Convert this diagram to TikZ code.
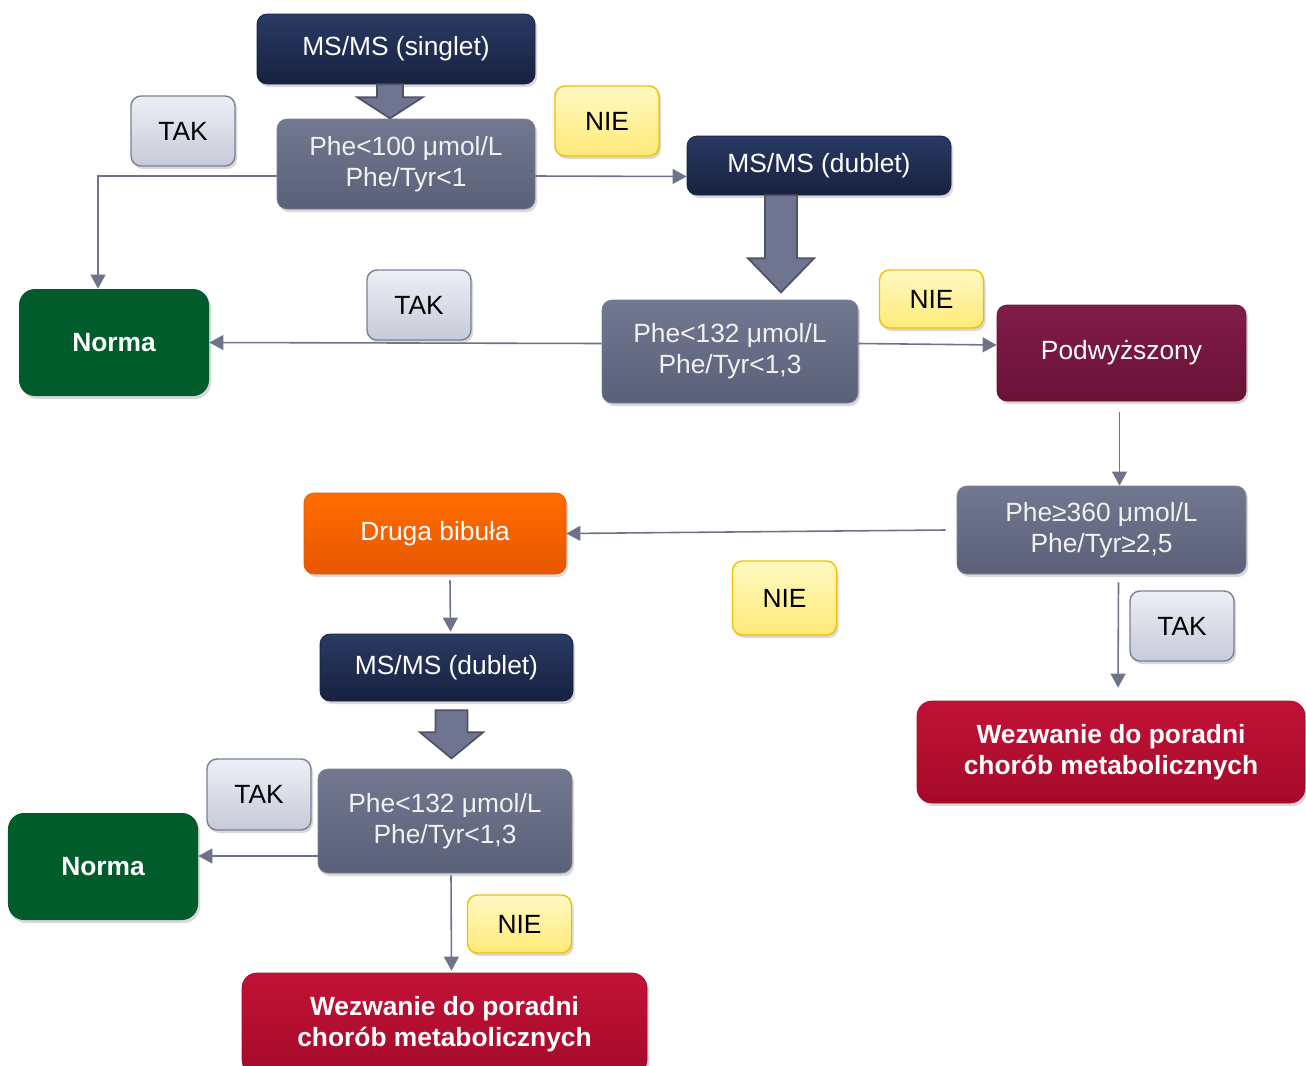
\documentclass[tikz,border=0pt]{standalone}
\usepackage{fontspec}
\setmainfont{Liberation Sans}
\usetikzlibrary{arrows.meta,shadows}

\definecolor{navytop}{HTML}{2A3A63}
\definecolor{navybot}{HTML}{172140}
\definecolor{slatetop}{HTML}{71788F}
\definecolor{slatebot}{HTML}{5A6078}
\definecolor{normagreen}{HTML}{005C2B}
\definecolor{maroontop}{HTML}{801C48}
\definecolor{maroonbot}{HTML}{6A1236}
\definecolor{orangetop}{HTML}{FF6D00}
\definecolor{orangebot}{HTML}{E85600}
\definecolor{redtop}{HTML}{C21236}
\definecolor{redbot}{HTML}{A50A2A}
\definecolor{taktop}{HTML}{EDEFF5}
\definecolor{takbot}{HTML}{C7CAD8}
\definecolor{takline}{HTML}{7A7F95}
\definecolor{nietop}{HTML}{FFF9C2}
\definecolor{niebot}{HTML}{FFEA78}
\definecolor{nieline}{HTML}{F0C000}
\definecolor{connline}{HTML}{6E7389}
\definecolor{fatfill}{HTML}{6F7590}
\definecolor{fatline}{HTML}{4E5366}

\tikzset{
  box/.style={rounded corners=0.2cm, align=center, inner sep=2pt,
    font=\fontsize{15}{17.5}\selectfont,
    drop shadow={opacity=0.3, shadow xshift=0.04cm, shadow yshift=-0.06cm}},
  msbox/.style={box, text=white, top color=navytop, bottom color=navybot, draw=navybot},
  testbox/.style={box, text=white!95!black, top color=slatetop, bottom color=slatebot, draw=slatebot!80},
  normabox/.style={box, rounded corners=0.32cm, text=white, fill=normagreen,
    font=\fontsize{15}{17.5}\selectfont\bfseries, minimum width=3.8cm, minimum height=2.14cm,
    drop shadow={opacity=0}},
  podwbox/.style={box, text=white, top color=maroontop, bottom color=maroonbot, draw=maroonbot},
  drugabox/.style={box, text=white, top color=orangetop, bottom color=orangebot, draw=orangebot},
  callbox/.style={box, rounded corners=0.3cm, text=white, top color=redtop, bottom color=redbot,
    draw=redbot, font=\fontsize{15}{17.5}\selectfont\bfseries},
  takbox/.style={box, top color=taktop, bottom color=takbot, draw=takline, line width=0.8pt,
    minimum width=2.08cm},
  niebox/.style={box, top color=nietop, bottom color=niebot, draw=nieline, line width=0.8pt,
    minimum width=2.08cm},
  conn/.style={draw=connline, line width=0.9pt, -{Triangle[length=8pt,width=8.5pt]}},
  fat/.style={fill=fatfill, draw=fatline, line width=1pt, line join=miter}
}

\begin{document}
\begin{tikzpicture}
    \useasboundingbox (0,0) rectangle (26.12,-21.3);

    % main boxes
    \node[msbox, minimum width=5.56cm, minimum height=1.40cm] (singlet) at (7.92,-0.98) {MS/MS (singlet)};
    \node[testbox, minimum width=5.16cm, minimum height=1.80cm] (cond1) at (8.12,-3.28) {Phe<100 μmol/L\\Phe/Tyr<1};
    \node[msbox, minimum width=5.28cm, minimum height=1.18cm] (dublet1) at (16.38,-3.31) {MS/MS (dublet)};
    \node[normabox] (norma1) at (2.28,-6.85) {Norma};
    \node[testbox, minimum width=5.12cm, minimum height=2.06cm] (cond2) at (14.60,-7.03) {Phe<132 μmol/L\\Phe/Tyr<1,3};
    \node[podwbox, minimum width=4.98cm, minimum height=1.92cm] (podw) at (22.43,-7.06) {Podwyższony};
    \node[testbox, minimum width=5.78cm, minimum height=1.76cm] (cond3) at (22.03,-10.60) {Phe≥360 μmol/L\\Phe/Tyr≥2,5};
    \node[drugabox, minimum width=5.24cm, minimum height=1.62cm] (druga) at (8.70,-10.67) {Druga bibuła};
    \node[callbox, minimum width=7.76cm, minimum height=2.04cm] (wez1) at (22.22,-15.04) {Wezwanie do poradni\\chorób metabolicznych};
    \node[msbox, minimum width=5.06cm, minimum height=1.34cm] (dublet2) at (8.93,-13.35) {MS/MS (dublet)};
    \node[testbox, minimum width=5.08cm, minimum height=2.08cm] (cond4) at (8.90,-16.42) {Phe<132 μmol/L\\Phe/Tyr<1,3};
    \node[normabox] (norma2) at (2.06,-17.33) {Norma};
    \node[callbox, minimum width=8.10cm, minimum height=2.04cm] (wez2) at (8.89,-20.48) {Wezwanie do poradni\\chorób metabolicznych};

    % thick arrows
    \draw[fat] ([xshift=-0.38cm]singlet.south) -- ++(0,-0.26) -- ++(-0.39,0) -- ++(0.65,-0.42)
        -- ++(0.65,0.42) -- ++(-0.39,0) -- ++(0,0.26) -- cycle;
    \draw[fat] ([xshift=-1.08cm]dublet1.south) -- ++(0,-1.26) -- ++(-0.34,0) -- ++(0.66,-0.68)
        -- ++(0.66,0.68) -- ++(-0.34,0) -- ++(0,1.26) -- cycle;
    \draw[fat] ([xshift=-0.22cm,yshift=-0.18cm]dublet2.south) -- ++(0,-0.44) -- ++(-0.31,0) -- ++(0.63,-0.52)
        -- ++(0.63,0.52) -- ++(-0.31,0) -- ++(0,0.44) -- cycle;

    % connectors
    \coordinate (c1w) at ([yshift=-0.24cm]cond1.west);
    \coordinate (c4w) at ([yshift=-0.70cm]cond4.west);
    \draw[conn] (c1w) -| ([xshift=-0.32cm]norma1.north);
    \draw[conn] ([yshift=-0.24cm]cond1.east) -- ([yshift=-0.22cm]dublet1.west);
    \draw[conn] ([yshift=0.16cm]cond2.west) -- (norma1.east);
    \draw[conn] ([yshift=0.16cm]cond2.east) -- ([yshift=0.16cm]podw.west);
    \draw[conn] ([xshift=-0.04cm,yshift=-0.22cm]podw.south) -- ([xshift=-0.04cm]podw.south |- cond3.north);
    \draw[conn] ([xshift=-0.22cm]cond3.west) -- (druga.east);
    \draw[conn] ([xshift=0.34cm,yshift=-0.16cm]cond3.south) -- ([xshift=0.14cm,yshift=0.26cm]wez1.north);
    \draw[conn] ([xshift=0.30cm,yshift=-0.12cm]druga.south) -- ([xshift=0.08cm,yshift=0.04cm]dublet2.north);
    \draw[conn] (c4w) -- (c4w -| norma2.east);
    \draw[conn] ([xshift=0.12cm,yshift=-0.04cm]cond4.south) -- ([xshift=0.14cm,yshift=0.04cm]wez2.north);

    % TAK / NIE labels
    \node[takbox, minimum height=1.40cm] (tak1) at (3.66,-2.62) {TAK};
    \node[niebox, minimum height=1.40cm] (nie1) at (12.14,-2.42) {NIE};
    \node[takbox, minimum height=1.40cm] (tak2) at (8.38,-6.10) {TAK};
    \node[niebox, minimum height=1.16cm] (nie2) at (18.63,-5.98) {NIE};
    \node[niebox, minimum height=1.48cm] (nie3) at (15.69,-11.96) {NIE};
    \node[takbox, minimum height=1.40cm] (tak3) at (23.64,-12.52) {TAK};
    \node[takbox, minimum height=1.42cm] (tak4) at (5.18,-15.89) {TAK};
    \node[niebox, minimum height=1.16cm] (nie4) at (10.39,-18.48) {NIE};
\end{tikzpicture}
\end{document}
